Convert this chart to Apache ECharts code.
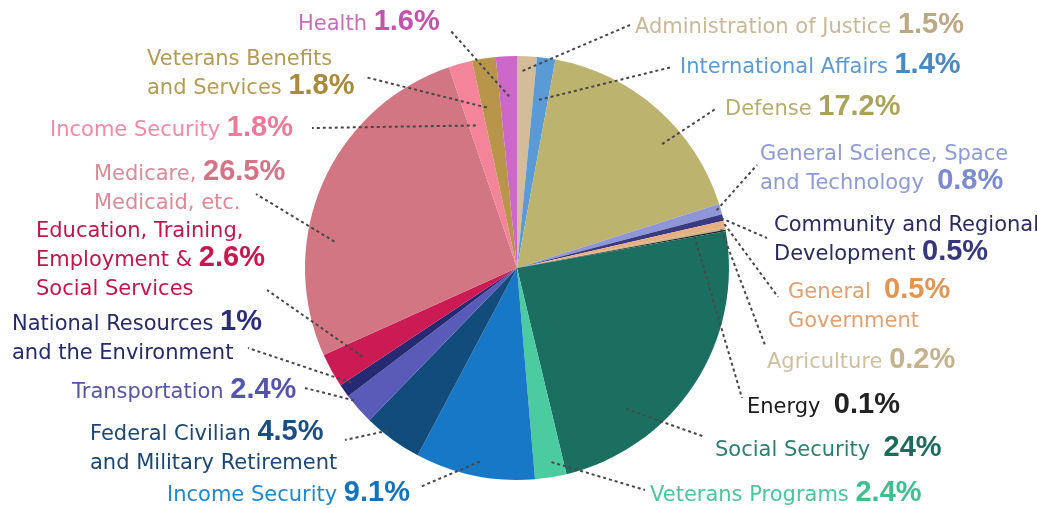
<!DOCTYPE html>
<html><head><meta charset="utf-8">
<script src="https://cdn.jsdelivr.net/npm/echarts@6/dist/echarts.min.js"></script>
<style>html,body{margin:0;padding:0;background:#fff}#c{width:1037px;height:508px}</style>
</head><body><div id="c"></div>
<script>
// ---- data (clockwise from 12 o'clock) ----
const categories = [
  'Administration of Justice', 'International Affairs', 'Defense',
  'General Science, Space and Technology', 'Community and Regional Development',
  'General Government', 'Agriculture', 'Energy', 'Social Security',
  'Veterans Programs', 'Income Security', 'Federal Civilian and Military Retirement',
  'Transportation', 'National Resources and the Environment',
  'Education, Training, Employment & Social Services', 'Medicare, Medicaid, etc.',
  'Income Security ', 'Veterans Benefits and Services', 'Health'
];
const values = [1.5, 1.4, 17.2, 0.8, 0.5, 0.5, 0.2, 0.1, 24, 2.4, 9.1, 4.5, 2.4, 1, 2.6, 26.5, 1.8, 1.8, 1.6];
// '#' marks where the percentage is printed
const labelTemplates = [
  'Administration of Justice #', 'International Affairs #', 'Defense #',
  'General Science, Space\nand Technology  #', 'Community and Regional\nDevelopment #',
  'General  #\nGovernment', 'Agriculture #', 'Energy  #', 'Social Security  #',
  'Veterans Programs #', 'Income Security #', 'Federal Civilian #\nand Military Retirement',
  'Transportation #', 'National Resources #\nand the Environment',
  'Education, Training,\nEmployment & #\nSocial Services', 'Medicare, #\nMedicaid, etc.',
  'Income Security #', 'Veterans Benefits\nand Services #', 'Health #'
];

// ---- styles ----
const sliceColors = ['#d5bc98', '#5b9bd5', '#bcb36e', '#8f96d8', '#3a3a80', '#e8b080', '#c9b28a', '#222222',
  '#1a6f60', '#4ccaa0', '#1778c8', '#124c7c', '#5a5ab8', '#262a72', '#cc1a55', '#d27683', '#f4849a', '#b8954a', '#cc68c8'];
const nameColors = ['#c9b898', '#5c9ad0', '#b5ae70', '#8e9ad6', '#2b2b5e', '#e0a070', '#cfbf9f', '#1a1a1a',
  '#2b7f6f', '#4cc49c', '#1f87d0', '#1c4774', '#5555a5', '#262a68', '#c0174b', '#dc8a98', '#f28aa5', '#b39a55', '#c66fb8'];
const pctColors = ['#bca882', '#4a88c0', '#aaa45a', '#7c8ad0', '#36367a', '#e09555', '#c4b28c', '#222222',
  '#1d6b5c', '#3fbf90', '#1573bd', '#1a4d82', '#5454b0', '#2a2e78', '#c8174e', '#d27485', '#ee7a98', '#a98a3a', '#c153ad'];
// label layout: [left x, first-line centre y, leader end x, leader end y]
const labelBoxes = [
  [635, 25, 630, 25], [680, 65, 672, 67], [725, 107, 717, 108], [760, 152, 757, 165],
  [774, 223, 767, 238], [788, 290, 778, 297], [767, 360, 765, 345], [747, 405, 742, 398],
  [715, 448, 705, 437], [650, 493, 645, 490], [167, 493, 420, 487], [90, 432, 345, 440],
  [72, 390, 305, 388], [12, 322, 248, 348], [36, 229, 267, 290], [94, 172, 256, 194],
  [50, 128, 312, 128], [147, 57, 365, 77], [298, 22, 450, 30]
];
// leader start inside slice: [fraction along slice angle, fraction of radius]
const leaderAnchors = [
  [0.3, 0.93], [0.4, 0.8], [0.63, 0.9], [0.5, 0.98], [0.5, 0.99], [0.5, 1.0], [0.5, 0.98], [0.5, 0.85],
  [0.72, 0.84], [0.4, 0.93], [0.48, 0.93], [0.65, 0.98], [0.78, 0.99], [0.7, 0.95], [0.4, 0.84],
  [0.34, 0.87], [0.4, 0.7], [0.25, 0.77], [0.55, 0.81]
];
const LINE_H = 29;
const PIE_CENTER = [517, 268];
const PIE_RADIUS = 212;

function buildLabel(i) {
  const pct = values[i] + '%';
  return labelTemplates[i].split('\n').map(function (line) {
    const k = line.indexOf('#');
    if (k < 0) return '{n|' + line + '}';
    let s = '';
    const before = line.slice(0, k), after = line.slice(k + 1);
    if (before) s += '{n|' + before + '}';
    s += '{p|' + pct + '}';
    if (after) s += '{n|' + after + '}';
    return s;
  }).join('\n');
}

const chart = echarts.init(document.getElementById('c'), null, { renderer: 'canvas' });

const sliceData = categories.map(function (name, i) {
  return { name: name, value: values[i], itemStyle: { color: sliceColors[i] } };
});
const labelData = categories.map(function (name, i) {
  return {
    name: name,
    value: values[i],
    itemStyle: { color: 'rgba(0,0,0,0)' },
    label: {
      rich: {
        n: { fontFamily: 'DejaVu Sans', fontSize: 21, color: nameColors[i], lineHeight: LINE_H, padding: [5, 0, 0, 0] },
        p: { fontFamily: 'Liberation Sans', fontWeight: 'bold', fontSize: 29, color: pctColors[i], lineHeight: LINE_H }
      }
    }
  };
});

chart.setOption({
  animation: false,
  backgroundColor: '#ffffff',
  series: [{
    // coloured slices
    type: 'pie',
    z: 2,
    center: PIE_CENTER,
    radius: PIE_RADIUS,
    startAngle: 90,
    clockwise: true,
    silent: true,
    itemStyle: { borderWidth: 0 },
    label: { show: false },
    labelLine: { show: false },
    data: sliceData
  }, {
    // same pie, transparent, carrying labels + leader lines drawn over the slices
    type: 'pie',
    z: 3,
    center: PIE_CENTER,
    radius: PIE_RADIUS,
    startAngle: 90,
    clockwise: true,
    avoidLabelOverlap: false,
    silent: true,
    itemStyle: { borderWidth: 0 },
    label: {
      show: true,
      position: 'outside',
      formatter: function (p) { return buildLabel(p.dataIndex); }
    },
    labelLine: {
      show: true,
      lineStyle: { color: '#474747', width: 2, type: [3, 3] }
    },
    labelLayout: function (params) {
      const i = params.dataIndex;
      const b = labelBoxes[i];
      const a = leaderAnchors[i];
      let start = params.labelLinePoints ? params.labelLinePoints[0] : [b[2], b[3]];
      try {
        const lay = chart.getModel().getSeriesByIndex(params.seriesIndex).getData().getItemLayout(i);
        const ang = lay.startAngle + (lay.endAngle - lay.startAngle) * a[0];
        const rr = lay.r * a[1];
        start = [lay.cx + rr * Math.cos(ang), lay.cy + rr * Math.sin(ang)];
      } catch (e) {}
      return {
        x: b[0], y: b[1] - LINE_H / 2,
        align: 'left', verticalAlign: 'top',
        hideOverlap: false, moveOverlap: null,
        labelLinePoints: [start, [b[2], b[3]]]
      };
    },
    data: labelData
  }]
});
</script>
</body></html>
